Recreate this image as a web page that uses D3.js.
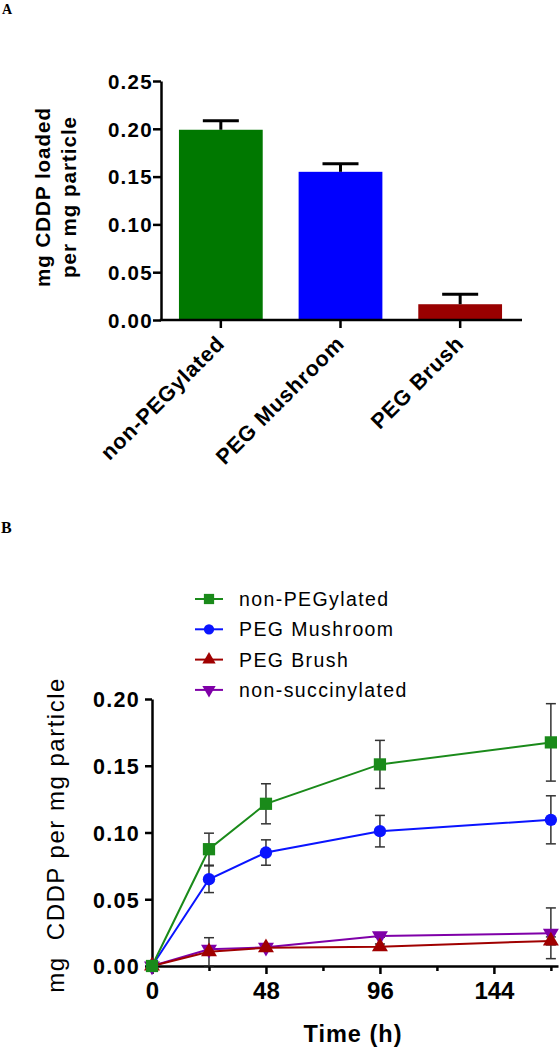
<!DOCTYPE html>
<html><head><meta charset="utf-8">
<script src="https://cdn.jsdelivr.net/npm/d3@7"></script>
<style>
html,body{margin:0;padding:0;background:#fff;}
svg{display:block;}
text{font-family:"Liberation Sans",Arial,sans-serif;}
</style></head>
<body>
<svg id="chart" width="559" height="1050"></svg>
<script>
// ---------- Panel A data ----------
const barCategories = ["non-PEGylated", "PEG Mushroom", "PEG Brush"];
const barValues = [0.199, 0.155, 0.0165];
const barErrors = [0.0095, 0.0085, 0.0105];
const barTicks = [0, 0.05, 0.10, 0.15, 0.20, 0.25];
const barColors = ["#007800", "#0000ff", "#990000"];

// ---------- Panel B data ----------
const timePoints = [0, 24, 48, 96, 168];
const seriesNames = ["non-PEGylated", "PEG Mushroom", "PEG Brush", "non-succinylated"];
const nonPEGylated = [0, 0.0875, 0.1215, 0.151, 0.1675];
const nonPEGylatedErr = [0, 0.012, 0.015, 0.018, 0.029];
const pegMushroom = [0, 0.065, 0.085, 0.101, 0.1095];
const pegMushroomErr = [0, 0.010, 0.0095, 0.0118, 0.018];
const pegBrush = [0, 0.0107, 0.0137, 0.0145, 0.0188];
const pegBrushErr = [0, 0.0105, 0.002, 0.002, 0.003];
const nonSuccinylated = [0, 0.0125, 0.014, 0.0225, 0.0245];
const nonSuccinylatedErr = [0, 0.002, 0.001, 0.001, 0.019];
const lineYTicks = [0, 0.05, 0.10, 0.15, 0.20];
const lineXTicks = [0, 48, 96, 144];
const lineXMinorTicks = [24, 72, 120, 168];
const lineColors = ["#1a8a1a", "#0a14ff", "#a00000", "#7f00a8"];
const lineSymbols = [d3.symbolSquare, d3.symbolCircle, d3.symbolTriangle, d3.symbolTriangle];

const svg = d3.select("#chart");

// Panel letters
svg.append("text").attr("x", 2).attr("y", 14).text("A")
  .style("font-family", "'Liberation Serif','Times New Roman',serif").style("font-weight", "bold").style("font-size", "14px");
svg.append("text").attr("x", 1).attr("y", 533).text("B")
  .style("font-family", "'Liberation Serif','Times New Roman',serif").style("font-weight", "bold").style("font-size", "16px");

// ================= Panel A =================
const ax = d3.scaleBand().domain(barCategories).range([161, 520]).paddingInner(0.3).paddingOuter(0.15);
const ay = d3.scaleLinear().domain([0, 0.25]).range([320, 81]);
const gA = svg.append("g");

gA.selectAll("rect.bar").data(barCategories).join("rect")
  .attr("class", "bar")
  .attr("x", d => ax(d)).attr("width", ax.bandwidth())
  .attr("y", (d, i) => ay(barValues[i]))
  .attr("height", (d, i) => ay(0) - ay(barValues[i]))
  .attr("fill", (d, i) => barColors[i]);

const capA = 36;
barCategories.forEach((c, i) => {
  const cx = ax(c) + ax.bandwidth() / 2;
  gA.append("line").attr("x1", cx).attr("x2", cx)
    .attr("y1", ay(barValues[i])).attr("y2", ay(barValues[i] + barErrors[i]))
    .attr("stroke", "#000").attr("stroke-width", 3);
  gA.append("line").attr("x1", cx - capA / 2).attr("x2", cx + capA / 2)
    .attr("y1", ay(barValues[i] + barErrors[i])).attr("y2", ay(barValues[i] + barErrors[i]))
    .attr("stroke", "#000").attr("stroke-width", 3);
});

const yAxisA = gA.append("g").attr("transform", "translate(161,0)")
  .call(d3.axisLeft(ay).tickValues(barTicks).tickFormat(d3.format(".2f")).tickSize(8).tickSizeOuter(0));
yAxisA.select(".domain").attr("stroke-width", 2.5).attr("stroke", "#000");
yAxisA.selectAll(".tick line").attr("stroke-width", 2.5).attr("stroke", "#000");
yAxisA.selectAll(".tick text").attr("x", -8).attr("dy", "0.36em")
  .style("font-size", "20.5px").style("font-weight", "bold").style("letter-spacing", "1.3px").attr("fill", "#000");

const xAxisA = gA.append("g").attr("transform", "translate(0,320)")
  .call(d3.axisBottom(ax).tickSize(8).tickSizeOuter(0));
xAxisA.select(".domain").attr("stroke-width", 2.5).attr("stroke", "#000")
  .attr("d", "M159.75,0H522");
xAxisA.selectAll(".tick line").attr("stroke-width", 2.5).attr("stroke", "#000");
xAxisA.selectAll(".tick text")
  .attr("y", 0).attr("dy", 0)
  .attr("text-anchor", "end")
  .attr("transform", "translate(5,25) rotate(-45)")
  .style("font-size", "21.5px").style("font-weight", "bold").style("letter-spacing", "0.8px").attr("fill", "#000");

const labA = gA.append("text").attr("transform", "translate(50,197) rotate(-90)")
  .attr("text-anchor", "middle").style("font-size", "20.5px").style("font-weight", "bold").style("letter-spacing", "1px");
labA.append("tspan").attr("x", 0).attr("y", 0).text("mg CDDP loaded");
labA.append("tspan").attr("x", 0).attr("y", 26).text("per mg particle");

// ================= Panel B =================
const bx = d3.scaleLinear().domain([0, 171]).range([152, 558]);
const by = d3.scaleLinear().domain([0, 0.20]).range([966, 699]);
const gB = svg.append("g");

const yAxisB = gB.append("g").attr("transform", "translate(152,0)")
  .call(d3.axisLeft(by).tickValues(lineYTicks).tickFormat(d3.format(".2f")).tickSize(7).tickSizeOuter(0));
yAxisB.select(".domain").attr("stroke-width", 2.5).attr("stroke", "#000");
yAxisB.selectAll(".tick line").attr("stroke-width", 2.5).attr("stroke", "#000");
yAxisB.selectAll(".tick text").attr("x", -12).attr("dy", "0.36em")
  .style("font-size", "21.5px").style("font-weight", "bold").style("letter-spacing", "1.3px").attr("fill", "#000");

const xAxisB = gB.append("g").attr("transform", "translate(0,966)")
  .call(d3.axisBottom(bx).tickValues(lineXTicks).tickFormat(d3.format("d")).tickSize(8).tickSizeOuter(0));
xAxisB.select(".domain").attr("stroke-width", 2.5).attr("stroke", "#000");
xAxisB.selectAll(".tick line").attr("stroke-width", 2.5).attr("stroke", "#000");
xAxisB.selectAll(".tick text").attr("y", 16).attr("dy", "0.71em")
  .style("font-size", "24px").style("font-weight", "bold").attr("fill", "#000");
const xMinorB = gB.append("g").attr("transform", "translate(0,966)")
  .call(d3.axisBottom(bx).tickValues(lineXMinorTicks).tickFormat("").tickSize(5).tickSizeOuter(0));
xMinorB.select(".domain").remove();
xMinorB.selectAll(".tick line").attr("stroke-width", 2.5).attr("stroke", "#000");

gB.append("text").attr("x", 353).attr("y", 1042).attr("text-anchor", "middle")
  .style("font-size", "23.5px").style("font-weight", "bold").style("letter-spacing", "1px").text("Time (h)");
gB.append("text").attr("transform", "translate(64,835) rotate(-90)").attr("text-anchor", "middle")
  .style("font-size", "24px").style("letter-spacing", "1.5px").attr("xml:space", "preserve")
  .text("mg  CDDP per mg particle");

const seriesVals = [nonPEGylated, pegMushroom, pegBrush, nonSuccinylated];
const seriesErrs = [nonPEGylatedErr, pegMushroomErr, pegBrushErr, nonSuccinylatedErr];
const symSizes = [150, 120, 110, 110];
const drawOrder = [3, 2, 1, 0];
const capB = 10;

drawOrder.forEach(s => {
  timePoints.forEach((t, i) => {
    const e = seriesErrs[s][i];
    if (!e) return;
    const v = seriesVals[s][i];
    const x = bx(t), y1 = by(v - e), y2 = by(v + e);
    gB.append("line").attr("x1", x).attr("x2", x).attr("y1", Math.min(y1, by(0) + 6)).attr("y2", y2)
      .attr("stroke", "#333").attr("stroke-width", 1.5);
    gB.append("line").attr("x1", x - capB / 2).attr("x2", x + capB / 2).attr("y1", y2).attr("y2", y2)
      .attr("stroke", "#333").attr("stroke-width", 1.5);
    if (y1 <= by(0) + 6) {
      gB.append("line").attr("x1", x - capB / 2).attr("x2", x + capB / 2).attr("y1", y1).attr("y2", y1)
        .attr("stroke", "#333").attr("stroke-width", 1.5);
    }
  });
});

const lineGen = d3.line().x((d, i) => bx(timePoints[i])).y(d => by(d));
drawOrder.forEach(s => {
  gB.append("path").datum(seriesVals[s]).attr("d", lineGen)
    .attr("fill", "none").attr("stroke", lineColors[s]).attr("stroke-width", 2);
  gB.selectAll(null).data(seriesVals[s]).join("path")
    .attr("transform", (d, i) => `translate(${bx(timePoints[i])},${by(d)})` + (s === 3 ? " rotate(180)" : ""))
    .attr("d", d3.symbol().type(lineSymbols[s]).size(symSizes[s]))
    .attr("fill", lineColors[s]);
});

const legY0 = 599, legDy = 30.3;
seriesNames.forEach((n, s) => {
  const y = legY0 + s * legDy;
  gB.append("line").attr("x1", 195).attr("x2", 223).attr("y1", y).attr("y2", y)
    .attr("stroke", lineColors[s]).attr("stroke-width", 2);
  gB.append("path").attr("transform", `translate(209,${y})` + (s === 3 ? " rotate(180)" : ""))
    .attr("d", d3.symbol().type(lineSymbols[s]).size(symSizes[s] * 0.7))
    .attr("fill", lineColors[s]);
  gB.append("text").attr("x", 239).attr("y", y + 7)
    .style("font-size", "19.5px").style("letter-spacing", "1.4px").text(n);
});
</script>
</body></html>
